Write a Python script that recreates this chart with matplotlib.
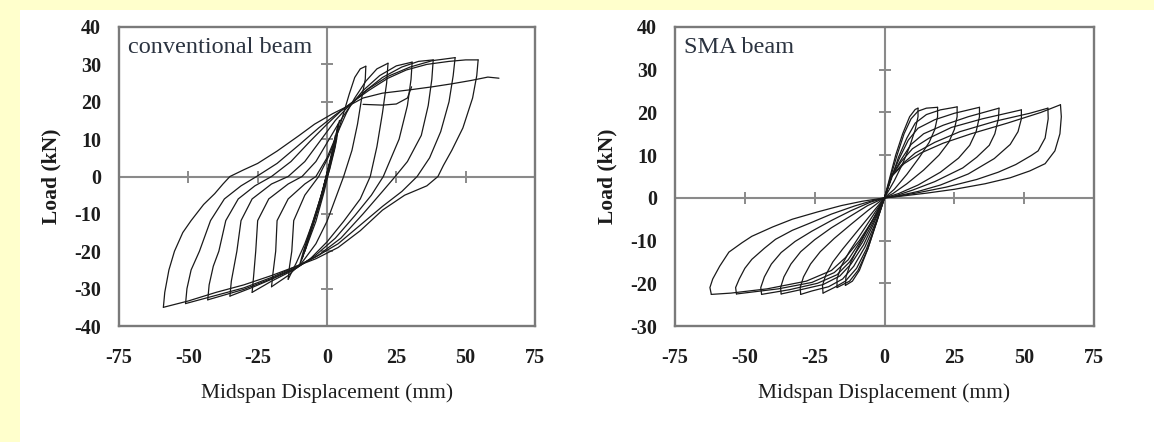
import matplotlib
matplotlib.use("Agg")
import matplotlib.pyplot as plt
from matplotlib.patches import Rectangle

plt.rcParams["axes.unicode_minus"] = False

# ---------------- data: conventional beam ----------------
x_ticks = [-75, -50, -25, 0, 25, 50, 75]
conv_y_ticks = [-40, -30, -20, -10, 0, 10, 20, 30, 40]
sma_y_ticks = [-30, -20, -10, 0, 10, 20, 30, 40]

# small initial cycles (dense central band)
conv_small_1 = [(0, 0), (2, 6), (3, 10), (4, 14), (3.5, 10), (1.5, 4), (-1, -4), (-4, -12),
                (-7, -18), (-10, -24), (-8.5, -20), (-5.5, -13), (-2.5, -6), (0, 0)]
conv_small_2 = [(0, 0), (1.5, 5), (3, 11), (2.5, 7), (0.5, 2), (-2, -6), (-5, -13), (-8, -20),
                (-6.5, -16), (-3.5, -9), (-1, -3), (0, 0)]
conv_small_3 = [(-1, -2), (1, 4), (2.5, 9), (4.5, 15), (3, 9), (0, 1), (-3, -8), (-6, -15),
                (-9, -22), (-7, -17), (-4, -10), (-1, -2)]
conv_small_4 = [(4, 14), (3, 8), (1, 2), (-2, -5), (-5, -12), (-8, -18), (-11, -23), (-14, -27.5)]

# reloading branches (negative peak -> positive peak)
conv_up_1 = [(-14, -27.5), (-13.5, -24), (-12.7, -20), (-12, -11.8), (-8, -5), (-3, 0), (1, 6),
             (4, 12), (6, 17), (8, 22), (10, 26.5), (12, 28.8), (14, 29.5)]
conv_up_2 = [(-20, -29.5), (-19.5, -26), (-18.5, -20), (-18, -11.8), (-14, -6), (-8, -2), (-4, 0),
             (0, 5), (4, 12), (7, 17), (10, 21), (14, 25.5), (18, 28.8), (22, 30.3)]
conv_up_3 = [(-27, -31), (-26.5, -27), (-25.7, -20), (-25, -11.8), (-21, -6), (-14, -2), (-9, 0),
             (-4, 4), (0, 9), (4, 14), (8, 18.5), (13, 23), (19, 27), (25, 29.6), (30.7, 30.6)]
conv_up_4 = [(-35, -32), (-34.5, -28), (-33.5, -24), (-32.5, -20), (-31, -11.8), (-27, -6),
             (-20, -2), (-14, 0), (-8, 4), (-2, 10), (3, 15), (8, 19), (14, 23), (20, 26.5),
             (27, 29.3), (33, 30.8), (38.3, 31.2)]
conv_up_5 = [(-43, -33), (-42.5, -29), (-41, -24), (-39, -20), (-36.5, -11.8), (-32, -6),
             (-26, -2.5), (-20, 0), (-13, 4), (-6, 9.5), (0, 14), (5, 17.5), (9, 19.8), (15, 23.5),
             (22, 26.8), (30, 29.3), (38, 31), (46.2, 31.8)]
conv_up_6 = [(-51, -34), (-50.5, -30), (-49, -25), (-46, -20), (-42, -11.8), (-37, -6), (-31, -2.5),
             (-25.4, 0), (-18, 3.5), (-10, 8.5), (-3, 13), (3, 16.5), (8.5, 19.5), (15, 23),
             (22, 26.3), (28.6, 28.5), (36, 30), (44, 30.8), (50, 31.2), (54.5, 31.2)]
conv_up_7 = [(-59, -35), (-58.5, -31), (-57, -25), (-55, -20), (-52, -15), (-49, -11.8),
             (-44.5, -7.5), (-40.5, -4.6), (-37.5, -2), (-35, 0), (-30, 1.8), (-25, 3.5),
             (-18, 6.8), (-10, 11), (-4.5, 14), (2, 16.8), (8.5, 19.2), (13, 21), (20, 22.3),
             (30, 23.2), (38, 24), (45, 24.8), (52, 25.7), (58, 26.6), (62, 26.3)]

# unloading branches (positive peak -> next negative peak)
conv_down_1 = [(14, 29.5), (13.8, 26), (12.5, 21), (11, 14), (9, 7), (6, 0), (3, -6), (0, -12),
               (-4, -18), (-9, -23), (-14, -26.5), (-20, -29.5)]
conv_down_2 = [(22, 30.3), (21.5, 25), (20, 17), (18, 8), (15.6, 0), (12, -6), (6, -12),
               (0, -17.5), (-6, -22), (-12, -25), (-20, -28), (-27, -31)]
conv_down_3 = [(30.7, 30.6), (30.3, 26), (29, 19), (26, 10), (22, 3), (20.3, 0), (16, -5),
               (10, -10.5), (3, -16.5), (-4, -21), (-11, -24.5), (-20, -27.5), (-28, -30), (-35, -32)]
conv_down_4 = [(38.3, 31.2), (37.8, 26), (36.5, 19), (34, 11), (29, 4), (24.6, 0), (20, -4),
               (13, -10), (5, -16.5), (-3, -21), (-11, -24.3), (-20, -27.3), (-30, -30.2), (-43, -33)]
conv_down_5 = [(46.2, 31.8), (45.5, 27), (44, 20), (41, 12), (37, 5), (32.5, 0), (27, -4),
               (20, -8), (12, -13), (4, -18), (-4, -21.5), (-11, -24), (-20, -27), (-30, -29.8),
               (-40, -31.8), (-51, -34)]
conv_down_6 = [(54.5, 31.2), (54, 27), (52.5, 21), (49, 13), (45, 7), (42, 3), (40, 0), (36, -2.5),
               (28, -5), (20, -9), (12, -14.5), (4, -19), (-4, -22), (-11, -24), (-20, -26.5),
               (-30, -29), (-40, -31), (-50, -33.3), (-59, -35)]
conv_extra = [(30.5, 24), (29, 21), (25, 19.4), (20, 19.1), (13, 19.3)]

conv_curves = [conv_small_1, conv_small_2, conv_small_3, conv_small_4,
               conv_up_1, conv_up_2, conv_up_3, conv_up_4, conv_up_5, conv_up_6, conv_up_7,
               conv_down_1, conv_down_2, conv_down_3, conv_down_4, conv_down_5, conv_down_6,
               conv_extra]

# ---------------- data: SMA beam ----------------
sma_load_pos_1 = [(0, 0), (2, 5), (4, 10), (6.5, 15), (9, 19), (11, 20.7), (12, 21)]
sma_load_pos_2 = [(0, 0), (2, 4.5), (4.5, 10), (7, 15), (9.5, 18.5), (12, 20.3), (15, 21), (19, 21.2)]
sma_load_pos_3 = [(0, 0), (2.5, 4.5), (5, 9.5), (8, 14), (11, 17.5), (15, 19.5), (20, 20.6), (26, 21.3)]
sma_load_pos_4 = [(0, 0), (2.5, 5), (5.5, 9.5), (8.5, 13.5), (12, 16.3), (18, 18.3), (25, 19.8), (34, 21.2)]
sma_load_pos_5 = [(0, 0), (2.5, 5), (6, 9), (9.5, 12.5), (14, 15), (21, 17), (30, 19), (41, 21)]
sma_load_pos_6 = [(0, 0), (2.5, 5), (6, 8.5), (10, 11.5), (16, 14), (24, 16.5), (35, 18.5), (49, 20.6)]
sma_load_pos_7 = [(0, 0), (2.5, 5), (6.5, 8), (11, 10.5), (18, 13), (27, 15.5), (40, 18), (52, 19.8), (58.5, 21)]
sma_load_pos_8 = [(0, 0), (2.5, 5), (7, 8), (13, 10.5), (21, 12.8), (31, 15), (44, 17.5), (56, 20), (63, 21.8)]

sma_unload_pos_1 = [(12, 21), (12, 19), (11, 16), (9, 12), (6.5, 8), (3.5, 4), (0, 0)]
sma_unload_pos_2 = [(19, 21.2), (19, 19), (18, 16), (16, 13), (12.5, 9.5), (8, 5.5), (3.5, 2), (0, 0)]
sma_unload_pos_3 = [(26, 21.3), (26, 19), (25, 16), (23, 13), (19.5, 10), (14, 6.5), (8, 3.3), (3, 1), (0, 0)]
sma_unload_pos_4 = [(34, 21.2), (34, 19), (32.8, 15.5), (30.5, 12.3), (26.5, 9.3), (20, 6), (12, 3), (5, 1), (0, 0)]
sma_unload_pos_5 = [(41, 21), (40.8, 18.6), (39.5, 15), (37.5, 12.3), (33, 9.5), (28, 7), (18, 3.8), (10, 1.8), (4, 0.5), (0, 0)]
sma_unload_pos_6 = [(49, 20.6), (49, 18.5), (47.8, 15.5), (45, 12.5), (39.3, 9.2), (30, 5.6), (20, 3), (12, 1.5), (5, 0.5), (0, 0)]
sma_unload_pos_7 = [(58.5, 21), (58.6, 18.5), (57.5, 14), (55, 11), (52.5, 9.9), (47, 7.8), (40.7, 6), (33, 4.3), (22, 2.5), (12, 1.2), (4, 0.3), (0, 0)]
sma_unload_pos_8 = [(63, 21.8), (63.3, 19), (62.8, 15), (61, 11), (57.5, 8), (52, 6.3), (45, 4.7), (36, 3.3), (25, 2), (15, 1.1), (6, 0.4), (0, 0)]

sma_load_neg_1 = [(0, 0), (-3, -6), (-6, -12), (-9, -17), (-11.5, -19.5), (-14, -20.5)]
sma_load_neg_2 = [(0, 0), (-3, -6), (-6, -12), (-9.5, -17), (-12.5, -19.5), (-17, -21)]
sma_load_neg_3 = [(0, 0), (-3, -6), (-6.5, -12), (-10, -16.5), (-14, -19.5), (-18, -21), (-22, -22.3)]
sma_load_neg_4 = [(0, 0), (-3, -5.5), (-7, -11.5), (-11, -16), (-15, -19), (-20, -20.8), (-26, -21.8), (-30, -22.6)]
sma_load_neg_5 = [(0, 0), (-3.5, -5.5), (-7.5, -11), (-12, -15.5), (-16, -18.3), (-22, -20.3), (-30, -21.5), (-37, -22.5)]
sma_load_neg_6 = [(0, 0), (-3.5, -5), (-8, -10.5), (-12.5, -15), (-17, -18), (-24, -20), (-34, -21.5), (-44, -22.6)]
sma_load_neg_7 = [(0, 0), (-4, -5), (-8.5, -10), (-13, -14.5), (-18, -17.5), (-26, -19.8), (-38, -21.3), (-53, -22.5)]
sma_load_neg_8 = [(0, 0), (-4, -5), (-9, -10), (-14, -14), (-19, -17), (-28, -19.5), (-42, -21.3), (-55, -22.3), (-62, -22.6)]

sma_unload_neg_1 = [(-14, -20.5), (-13.8, -18.5), (-12, -15), (-9, -11), (-5, -6), (-2, -2.5), (0, 0)]
sma_unload_neg_2 = [(-17, -21), (-17, -19), (-15.5, -16), (-12.5, -12.5), (-8.5, -8.5), (-4, -4), (0, 0)]
sma_unload_neg_3 = [(-22, -22.3), (-22.2, -20.5), (-21, -18), (-18.5, -15), (-15, -12), (-10, -8), (-5, -4), (0, 0)]
sma_unload_neg_4 = [(-30, -22.6), (-30.2, -21), (-29, -18.5), (-26.5, -15.5), (-23, -12.6), (-18, -9.5), (-12, -6.2), (-6, -3), (0, 0)]
sma_unload_neg_5 = [(-37, -22.5), (-37.2, -21), (-36, -18.5), (-33.5, -15.5), (-30, -12.6), (-25, -9.8), (-19, -7), (-12, -4.2), (-6, -1.8), (0, 0)]
sma_unload_neg_6 = [(-44, -22.6), (-44.3, -21), (-43, -18.5), (-40.5, -15.5), (-37, -12.8), (-32, -10.2), (-26, -7.8), (-19, -5.3), (-12, -3), (-5, -1), (0, 0)]
sma_unload_neg_7 = [(-53, -22.5), (-53.3, -21), (-52, -19), (-50, -16.5), (-47.5, -14.4), (-43, -11.8), (-39, -9.7), (-33, -7.6), (-27, -6), (-19, -3.8), (-10.7, -1.9), (-4, -0.6), (0, 0)]
sma_unload_neg_8 = [(-62, -22.6), (-62.5, -21), (-61.5, -19), (-59, -16), (-55.7, -12.7), (-51, -10.5), (-47.5, -9), (-40, -6.8), (-33, -5), (-24, -3.3), (-15.4, -1.8), (-8, -0.8), (0, 0)]

sma_curves = [sma_load_pos_1, sma_load_pos_2, sma_load_pos_3, sma_load_pos_4,
              sma_load_pos_5, sma_load_pos_6, sma_load_pos_7, sma_load_pos_8,
              sma_unload_pos_1, sma_unload_pos_2, sma_unload_pos_3, sma_unload_pos_4,
              sma_unload_pos_5, sma_unload_pos_6, sma_unload_pos_7, sma_unload_pos_8,
              sma_load_neg_1, sma_load_neg_2, sma_load_neg_3, sma_load_neg_4,
              sma_load_neg_5, sma_load_neg_6, sma_load_neg_7, sma_load_neg_8,
              sma_unload_neg_1, sma_unload_neg_2, sma_unload_neg_3, sma_unload_neg_4,
              sma_unload_neg_5, sma_unload_neg_6, sma_unload_neg_7, sma_unload_neg_8]

panel_titles = ["conventional beam", "SMA beam"]
x_label = "Midspan Displacement (mm)"
y_label = "Load (kN)"

# ---------------- figure ----------------
W, H = 1154, 442
fig = plt.figure(figsize=(W / 100, H / 100), dpi=100)
fig.patch.set_facecolor("#ffffcc")
fig.add_artist(Rectangle((20 / W, 0), 1 - 20 / W, 1 - 10 / H, transform=fig.transFigure,
                         facecolor="white", edgecolor="none", zorder=-10))

serif = ["Liberation Serif", "DejaVu Serif"]
frame_col = "#7a7a7a"
zero_col = "#8a8a8a"
line_col = "#1a1a1a"
text_col = "#1c1c1c"

axes_px = [(119, 535), (675, 1094)]
top_px, bot_px = 27, 326

panels = [(conv_curves, conv_y_ticks), (sma_curves, sma_y_ticks)]
for i, ((curves, yt), (xl, xr)) in enumerate(zip(panels, axes_px)):
    ax = fig.add_axes([xl / W, 1 - bot_px / H, (xr - xl) / W, (bot_px - top_px) / H])
    ax.set_facecolor("white")
    for c in curves:
        xs = [p[0] for p in c]
        ys = [p[1] for p in c]
        ax.plot(xs, ys, color=line_col, lw=0.9, solid_joinstyle="round",
                solid_capstyle="round", zorder=3)
    ax.set_xlim(x_ticks[0], x_ticks[-1])
    ax.set_ylim(yt[0], yt[-1])
    ax.axhline(0, color=zero_col, lw=1.5, zorder=2)
    ax.axvline(0, color=zero_col, lw=1.5, zorder=2)
    # small cross ticks on the zero lines
    xm = [t for t in x_ticks[1:-1] if t != 0]
    ym = [t for t in yt[1:-1] if t != 0]
    ax.plot(xm, [0] * len(xm), ls="none", marker="|", ms=8, mew=1.4, color=zero_col, zorder=2)
    ax.plot([0] * len(ym), ym, ls="none", marker="_", ms=8, mew=1.4, color=zero_col, zorder=2)
    for s in ax.spines.values():
        s.set_color(frame_col)
        s.set_linewidth(1.7)
    ax.set_xticks(x_ticks)
    ax.set_yticks(yt)
    ax.tick_params(length=0)
    ax.tick_params(axis="x", pad=16)
    ax.tick_params(axis="y", pad=13)
    for lab in ax.get_xticklabels() + ax.get_yticklabels():
        lab.set_fontfamily(serif)
        lab.set_fontsize(14.5)
        lab.set_fontweight("bold")
        lab.set_color(text_col)
    ax.set_xlabel(x_label, fontfamily=serif, fontsize=15.5, color=text_col, labelpad=11)
    ax.set_ylabel(y_label, fontfamily=serif, fontsize=15.5, fontweight="bold",
                  color=text_col, labelpad=9)
    ax.text(0.022, 0.93, panel_titles[i], transform=ax.transAxes, ha="left", va="center",
            fontfamily=serif, fontsize=17.5, color="#2b3340")

fig.savefig("out.png", dpi=100, facecolor=fig.get_facecolor())
